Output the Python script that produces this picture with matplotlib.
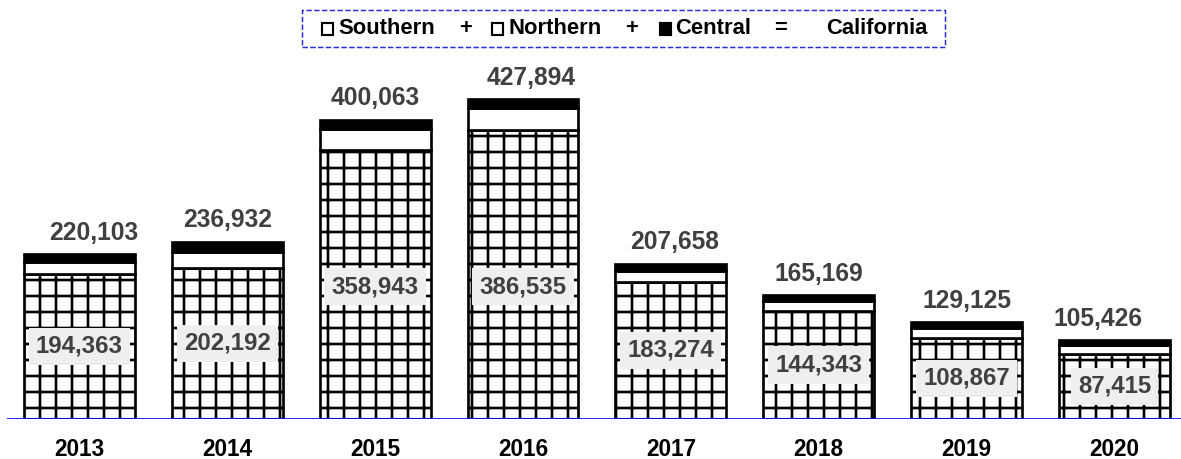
import matplotlib
matplotlib.use("Agg")
import matplotlib.pyplot as plt
from matplotlib.patches import Rectangle

years = ["2013", "2014", "2015", "2016", "2017", "2018", "2019", "2020"]
southern = [194363, 202192, 358943, 386535, 183274, 144343, 108867, 87415]
northern = [15240, 21240, 28620, 29359, 14884, 12826, 12758, 11511]
central = [10500, 13500, 12500, 12000, 9500, 8000, 7500, 6500]
california = [220103, 236932, 400063, 427894, 207658, 165169, 129125, 105426]

# horizontal nudges (points) for the total labels
total_dx = [11, 0, 0, 6, 3, 0, 0, -12]

plt.rcParams["font.family"] = ["Liberation Sans", "DejaVu Sans"]
plt.rcParams["hatch.linewidth"] = 2.0

DPI = 96
W, H = 1181, 459
fig = plt.figure(figsize=(W / DPI, H / DPI), dpi=DPI)
ax = fig.add_axes([7 / W, 40 / H, 1 - 7 / W, 419 / H])

x = list(range(len(years)))
w = 0.75
lw = 2.0

ax.bar(x, southern, width=w, color="white", edgecolor="black",
       hatch="+", linewidth=lw, zorder=2)
ax.bar(x, northern, width=w, bottom=southern, color="white",
       edgecolor="black", linewidth=lw, zorder=2)
bottom2 = [s + n for s, n in zip(southern, northern)]
ax.bar(x, central, width=w, bottom=bottom2, color="black",
       edgecolor="black", linewidth=lw, zorder=2)

ax.axhline(0, color="#0000ff", linewidth=2.0, zorder=3)

for xi, tot, s, dx in zip(x, california, southern, total_dx):
    ax.annotate(f"{tot:,}", (xi, tot), xytext=(dx, 7), textcoords="offset points",
                ha="center", va="bottom", fontsize=18.5, fontweight="bold",
                color="#404040")
    ax.text(xi, min(s / 2, 177000), f"{s:,}", ha="center", va="center",
            fontsize=18, fontweight="bold", color="#404040", zorder=4,
            bbox=dict(boxstyle="square,pad=0.3", fc="#efefef", ec="none"))
    ax.annotate(years[xi], (xi, 0), xytext=(0, -14), textcoords="offset points",
                ha="center", va="top", fontsize=17, fontweight="bold",
                color="black")

ax.set_xlim(-0.49, 7.45)
ax.set_ylim(0, 560000)
ax.axis("off")


def px(xp, yp):
    return xp / W, 1 - yp / H


# Legend: dashed frame with squares, words and operators
x0, y0 = px(302, 47)
fig.add_artist(Rectangle((x0, y0), (945 - 302) / W, 37 / H,
                         transform=fig.transFigure, fc="white", ec="#2a2ae0",
                         ls="--", lw=1.1))
yc = 29
for sx, filled in [(322, False), (492, False), (660, True)]:
    rx, ry = px(sx, yc + 6)
    fig.add_artist(Rectangle((rx, ry), 11 / W, 12 / H,
                             transform=fig.transFigure,
                             fc="black" if filled else "white",
                             ec="black", lw=1.6))
for tx, label in [(338, "Southern"), (459, "+"), (508, "Northern"),
                  (625, "+"), (675, "Central"), (774, "="), (826, "California")]:
    fx, fy = px(tx, yc)
    fig.text(fx, fy, label, ha="left", va="center", fontsize=16.5,
             fontweight="bold", color="black")

fig.savefig("out.png", dpi=DPI)
